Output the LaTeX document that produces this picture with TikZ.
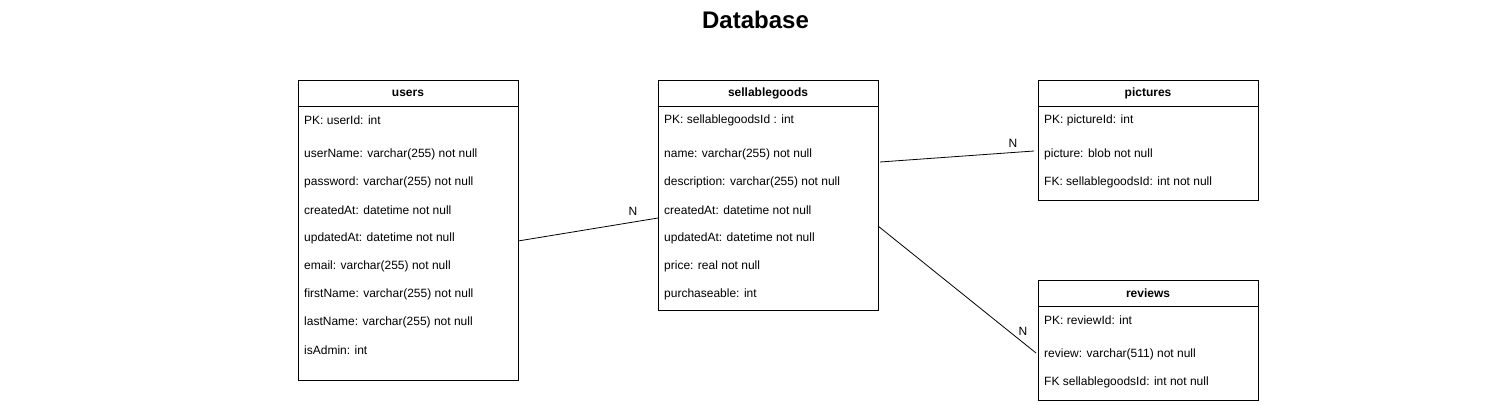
\documentclass[tikz,border=0pt]{standalone}
\usepackage{fontspec}
\setmainfont{Liberation Sans}
\begin{document}
\begin{tikzpicture}[x=1pt,y=-1pt,
  tbl/.style={draw=black,line width=0.8pt,fill=white,inner sep=0pt,anchor=north west},
  hdr/.style={font=\fontsize{12}{14}\selectfont\bfseries,inner sep=0pt},
  fld/.style={font=\fontsize{12}{14}\selectfont,inner sep=0pt,anchor=west,yshift=-1pt},
  card/.style={font=\fontsize{12}{14}\selectfont,inner sep=0pt},
  rel/.style={draw=black,line width=0.8pt}]
\useasboundingbox (0,0) rectangle (1511,404);
\node[font=\fontsize{24}{28}\selectfont\bfseries,inner sep=0pt] (title) at (755.5,20) {Database};

% users
\node[tbl,minimum width=220pt,minimum height=300pt] (users) at (298,80) {};
\draw (298,106) -- (518,106);
\node[hdr] (usersh) at (408,93.5) {users};
\node[fld] (u1) at (304,119) {PK: userId: int};
\node[fld] (u2) at (304,153) {userName: varchar(255) not null};
\node[fld] (u3) at (304,181) {password: varchar(255) not null};
\node[fld] (u4) at (304,209) {createdAt: datetime not null};
\node[fld] (u5) at (304,237) {updatedAt: datetime not null};
\node[fld] (u6) at (304,265) {email: varchar(255) not null};
\node[fld] (u7) at (304,293) {firstName: varchar(255) not null};
\node[fld] (u8) at (304,321) {lastName: varchar(255) not null};
\node[fld] (u9) at (304,349) {isAdmin: int};

% sellablegoods
\node[tbl,minimum width=220pt,minimum height=230pt] (goods) at (658,80) {};
\draw (658,106) -- (878,106);
\node[hdr] (goodsh) at (768,93.5) {sellablegoods};
\node[fld] (g1) at (664,119) {PK: sellablegoodsId : int};
\node[fld] (g2) at (664,153) {name: varchar(255) not null};
\node[fld] (g3) at (664,181) {description: varchar(255) not null};
\node[fld] (g4) at (664,209) {createdAt: datetime not null};
\node[fld] (g5) at (664,237) {updatedAt: datetime not null};
\node[fld] (g6) at (664,265) {price: real not null};
\node[fld] (g7) at (664,293) {purchaseable: int};

% pictures
\node[tbl,minimum width=220pt,minimum height=120pt] (pics) at (1038,80) {};
\draw (1038,106) -- (1258,106);
\node[hdr] (picsh) at (1148,93.5) {pictures};
\node[fld] (p1) at (1044,119) {PK: pictureId: int};
\node[fld] (p2) at (1044,153) {picture: blob not null};
\node[fld] (p3) at (1044,181) {FK: sellablegoodsId: int not null};

% reviews
\node[tbl,minimum width=220pt,minimum height=120pt] (revs) at (1038,280) {};
\draw (1038,306) -- (1258,306);
\node[hdr] (revsh) at (1148,293.5) {reviews};
\node[fld] (r1) at (1044,319) {PK: reviewId: int};
\node[fld] (r2) at (1044,353) {review: varchar(511) not null};
\node[fld] (r3) at (1044,381) {FK sellablegoodsId: int not null};

% connectors
\coordinate (c1a) at (518,241);
\coordinate (c1b) at (658,218);
\coordinate (c2a) at (880,162);
\coordinate (c2b) at (1034,151);
\coordinate (c3a) at (878,226);
\coordinate (c3b) at (1036,353);
\draw[rel] (c1a) -- (c1b);
\draw[rel] (c2a) -- (c2b);
\draw[rel] (c3a) -- (c3b);
\node[card] (n1) at (633,211.5) {N};
\node[card] (n2) at (1013,143.5) {N};
\node[card] (n3) at (1023,331.5) {N};
\end{tikzpicture}
\end{document}
